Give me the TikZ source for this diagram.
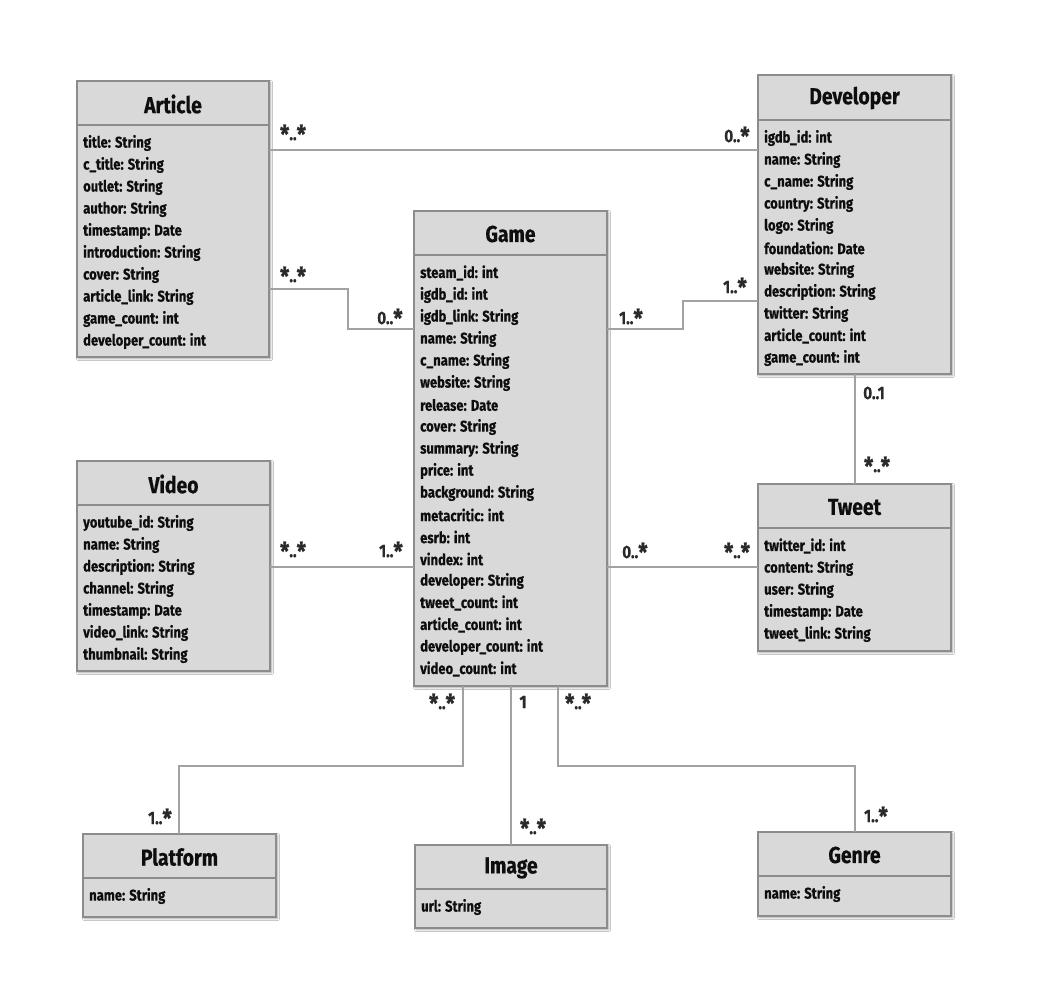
\documentclass[tikz,border=0pt]{standalone}
\usepackage{fontspec}
\setmainfont{Fira Sans}[FakeStretch=0.84, BoldFeatures={FakeBold=0.5}]
\usetikzlibrary{fit,shadows.blur}
\definecolor{boxfill}{HTML}{D9D9D9}
\definecolor{boxdraw}{HTML}{8C8C8C}
\definecolor{conncol}{HTML}{A2A2A2}
\definecolor{labcol}{HTML}{2A2A2A}
\definecolor{txtcol}{HTML}{0E0E0E}
\newcommand\st{\raisebox{-3.2pt}{\fontsize{25}{25}\selectfont *}}
\tikzset{
  cls/.style={inner sep=0pt, outer sep=0pt, fill=boxfill, draw=boxdraw, line width=1.3pt,
    blur shadow={shadow blur steps=6, shadow xshift=1.5pt, shadow yshift=-1.5pt, shadow opacity=35}},
  hdr/.style={draw=boxdraw, line width=1.3pt},
  ttl/.style={font=\fontsize{23}{25}\selectfont\bfseries, text=txtcol, inner sep=0pt},
  attr/.style={font=\fontsize{15.5}{17}\selectfont\bfseries, text=txtcol, inner sep=0pt, anchor=west},
  conn/.style={draw=conncol, line width=2.2pt},
  lab/.style={font=\fontsize{18}{20}\selectfont\bfseries, text=labcol, inner sep=0pt},
}
\newcommand\umlclass[9]{% name,x1,y1,x2,y2,title,titleY,lineY,attrs
  \node[cls, fit={(#2,#3)(#4,#5)}] (#1) {};
  \node[ttl] (#1-t) at ({(#2+#4)/2},#7) {#6};
  \draw[hdr] (#2,#8) -- (#4,#8);
  \foreach \a [count=\i] in {#9} {
    \node[attr] (#1-a\i) at (#2+6,#8+18+22*\i-22) {\a};
  }
}
\begin{document}
\begin{tikzpicture}[x=1pt,y=-1pt]
\useasboundingbox[fill=white] (0,0) rectangle (1044,985);

\umlclass{article}{77}{81}{269}{357}{Article}{104}{125}{{title: String},{c\_title: String},{outlet: String},{author: String},{timestamp: Date},{introduction: String},{cover: String},{article\_link: String},{game\_count: int},{developer\_count: int}}
\umlclass{developer}{758}{75}{951}{374}{Developer}{98}{120}{{igdb\_id: int},{name: String},{c\_name: String},{country: String},{logo: String},{foundation: Date},{website: String},{description: String},{twitter: String},{article\_count: int},{game\_count: int}}
\umlclass{game}{414}{211}{607}{686}{Game}{234}{255}{{steam\_id: int},{igdb\_id: int},{igdb\_link: String},{name: String},{c\_name: String},{website: String},{release: Date},{cover: String},{summary: String},{price: int},{background: String},{metacritic: int},{esrb: int},{vindex: int},{developer: String},{tweet\_count: int},{article\_count: int},{developer\_count: int},{video\_count: int}}
\umlclass{video}{77}{461}{270}{671}{Video}{484}{505}{{youtube\_id: String},{name: String},{description: String},{channel: String},{timestamp: Date},{video\_link: String},{thumbnail: String}}
\umlclass{tweet}{758}{484}{951}{651}{Tweet}{507}{528}{{twitter\_id: int},{content: String},{user: String},{timestamp: Date},{tweet\_link: String}}
\umlclass{platform}{83}{834}{276}{917}{Platform}{857}{878}{{name: String}}
\umlclass{image}{415}{845}{607}{928}{Image}{868}{889}{{url: String}}
\umlclass{genre}{758}{832}{951}{916}{Genre}{855}{876}{{name: String}}

% helper coordinates
\coordinate (yAD) at (0,150);
\coordinate (yAG1) at (0,289);
\coordinate (yAG2) at (0,329);
\coordinate (xAG) at (348,0);
\coordinate (yGD1) at (0,329);
\coordinate (yGD2) at (0,301);
\coordinate (xGD) at (683,0);
\coordinate (xDT) at (855,0);
\coordinate (yMid) at (0,567);
\coordinate (xGP) at (463,0);
\coordinate (xPl) at (179,0);
\coordinate (xGI) at (511,0);
\coordinate (xGG) at (558,0);
\coordinate (yBot) at (0,766);

\draw[conn] (article.east |- yAD) -- (developer.west |- yAD);
\draw[conn] (article.east |- yAG1) -- (xAG |- yAG1) -- (xAG |- yAG2) -- (game.west |- yAG2);
\draw[conn] (game.east |- yGD1) -- (xGD |- yGD1) -- (xGD |- yGD2) -- (developer.west |- yGD2);
\draw[conn] (developer.south -| xDT) -- (tweet.north -| xDT);
\draw[conn] (video.east |- yMid) -- (game.west |- yMid);
\draw[conn] (game.east |- yMid) -- (tweet.west |- yMid);
\draw[conn] (game.south -| xGP) -- (xGP |- yBot) -- (xPl |- yBot) -- (platform.north -| xPl);
\draw[conn] (game.south -| xGI) -- (image.north -| xGI);
\draw[conn] (game.south -| xGG) -- (xGG |- yBot) -- (xDT |- yBot) -- (genre.north -| xDT);

\node[lab] (l1) at (293,134) {\st..\st};
\node[lab] (l2) at (737,136) {0..\st};
\node[lab] (l3) at (293,276) {\st..\st};
\node[lab] (l4) at (390,318) {0..\st};
\node[lab] (l5) at (631,318) {1..\st};
\node[lab] (l6) at (735,287) {1..\st};
\node[lab] (l7) at (874,393) {0..1};
\node[lab] (l8) at (877,466) {\st..\st};
\node[lab] (l9) at (293,551) {\st..\st};
\node[lab] (l10) at (391,551) {1..\st};
\node[lab] (l11) at (635,552) {0..\st};
\node[lab] (l12) at (737,552) {\st..\st};
\node[lab] (l13) at (442,703) {\st..\st};
\node[lab] (l14) at (160,818) {1..\st};
\node[lab] (l15) at (523,702) {1};
\node[lab] (l16) at (533,828) {\st..\st};
\node[lab] (l17) at (578,703) {\st..\st};
\node[lab] (l18) at (876,816) {1..\st};
\end{tikzpicture}
\end{document}
